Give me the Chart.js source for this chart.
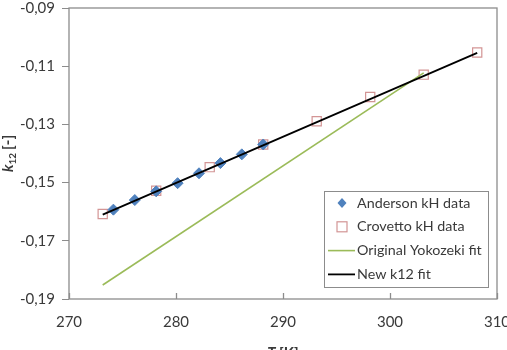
<!DOCTYPE html>
<html>
<head>
<meta charset="utf-8">
<script src="https://cdn.jsdelivr.net/npm/chart.js@4.4.0/dist/chart.umd.min.js"></script>
<style>
  html, body { margin: 0; padding: 0; background: #fff; }
  #wrap { width: 507px; height: 350px; }
</style>
</head>
<body>
<div id="wrap"><canvas id="k12Chart" width="507" height="350"></canvas></div>
<script>
// temperatures [K] and k12 values
var andersonT = [274.15, 276.15, 278.15, 280.15, 282.15, 284.15, 286.15, 288.15];
var andersonK = [-0.1593, -0.1560, -0.1530, -0.1502, -0.1468, -0.1433, -0.1403, -0.1369];
var crovettoT = [273.15, 278.15, 283.15, 288.15, 293.15, 298.15, 303.15, 308.15];
var crovettoK = [-0.1608, -0.1528, -0.1447, -0.1369, -0.1289, -0.1206, -0.1129, -0.1053];
// fit lines (straight, end points only)
var yokozekiT = [273.15, 303.15];
var yokozekiK = [-0.1852, -0.1123];
var newFitT = [273.15, 308.15];
var newFitK = [-0.1610, -0.1054];

var xTicks = [270, 280, 290, 300, 310];
var yTicks = [-0.19, -0.17, -0.15, -0.13, -0.11, -0.09];

var FONT = "Lato, 'Open Sans', sans-serif";
var TXT = "#3a3a3a";

function pts(xs, ys) {
    return xs.map(function (x, i) { return {x: x, y: ys[i]}; });
}

var datasets = [{
    label: "Anderson kH data",
    data: pts(andersonT, andersonK),
    pointStyle: "rectRot",
    pointRadius: 5.5,
    backgroundColor: "#4F81BD",
    borderColor: "#4F81BD",
    borderWidth: 1,
    showLine: false,
    order: 2
}, {
    label: "Crovetto kH data",
    data: pts(crovettoT, crovettoK),
    pointStyle: "rect",
    pointRadius: 6.5,
    backgroundColor: "rgba(255,255,255,0)",
    borderColor: "#D39595",
    borderWidth: 1.2,
    showLine: false,
    order: 3
}, {
    label: "Original Yokozeki fit",
    data: pts(yokozekiT, yokozekiK),
    showLine: true,
    pointRadius: 0,
    borderColor: "#9BBB59",
    borderWidth: 1.6,
    order: 1
}, {
    label: "New k12 fit",
    data: pts(newFitT, newFitK),
    showLine: true,
    pointRadius: 0,
    borderColor: "#000000",
    borderWidth: 1.8,
    order: 0
}];

// box round the plot, inward x ticks, axis titles and the legend
var decorations = {
    id: "decorations",
    afterDraw: function (chart) {
        var ctx = chart.ctx, a = chart.chartArea;
        var xs = chart.scales.x;
        ctx.save();
        ctx.strokeStyle = "#8c8c8c";
        ctx.lineWidth = 1.3;
        ctx.strokeRect(a.left, a.top, a.right - a.left, a.bottom - a.top);
        xTicks.forEach(function (v) {
            var px = Math.round(xs.getPixelForValue(v)) + 0.5;
            ctx.beginPath();
            ctx.moveTo(px, a.bottom);
            ctx.lineTo(px, a.bottom - 6);
            ctx.stroke();
        });

        // y title  k12 [-]
        ctx.fillStyle = TXT;
        ctx.translate(13, 148);
        ctx.rotate(-Math.PI / 2);
        ctx.textBaseline = "alphabetic";
        ctx.textAlign = "left";
        var x0 = -24;
        ctx.font = "italic bold 15px " + FONT;
        ctx.fillText("k", x0, 0);
        x0 += ctx.measureText("k").width;
        ctx.font = "bold 10px " + FONT;
        ctx.fillText("12", x0, 3);
        x0 += ctx.measureText("12").width + 3;
        ctx.font = "bold 15px " + FONT;
        ctx.fillText("[-]", x0, 0);
        ctx.setTransform(1, 0, 0, 1, 0, 0);

        // x title  T [K]
        ctx.textAlign = "left";
        ctx.font = "italic bold 15px " + FONT;
        var tw = ctx.measureText("T ").width;
        ctx.font = "bold 15px " + FONT;
        var kw = ctx.measureText("[K]").width;
        var sx = (a.left + a.right) / 2 - (tw + kw) / 2;
        ctx.font = "italic bold 15px " + FONT;
        ctx.fillText("T ", sx, 358);
        ctx.font = "bold 15px " + FONT;
        ctx.fillText("[K]", sx + tw, 358);

        // legend
        var lx = 324, ly = 191, lw = 164, lh = 96;
        ctx.fillStyle = "#fff";
        ctx.fillRect(lx, ly, lw, lh);
        ctx.strokeStyle = "#8c8c8c";
        ctx.lineWidth = 1;
        ctx.strokeRect(lx + 0.5, ly + 0.5, lw, lh);
        ctx.font = "14.3px " + FONT;
        ctx.textBaseline = "middle";
        chart.data.datasets.forEach(function (ds, i) {
            var cy = ly + 12 + i * 23.8;
            var mx = 342;
            ctx.strokeStyle = ds.borderColor;
            ctx.lineWidth = ds.borderWidth;
            ctx.beginPath();
            if (ds.showLine) {
                ctx.moveTo(328, cy);
                ctx.lineTo(355, cy);
                ctx.stroke();
            } else if (ds.pointStyle === "rect") {
                ctx.strokeRect(mx - 5, cy - 5, 10, 10);
            } else {
                ctx.fillStyle = ds.backgroundColor;
                ctx.moveTo(mx, cy - 5);
                ctx.lineTo(mx + 4.5, cy);
                ctx.lineTo(mx, cy + 5);
                ctx.lineTo(mx - 4.5, cy);
                ctx.closePath();
                ctx.fill();
            }
            ctx.fillStyle = TXT;
            ctx.fillText(ds.label, 357, cy);
        });
        ctx.restore();
    }
};

new Chart(document.getElementById("k12Chart"), {
    type: "scatter",
    data: {datasets: datasets},
    plugins: [decorations],
    options: {
        responsive: false,
        animation: false,
        layout: {padding: {top: 8, right: 10, left: 0, bottom: 0}},
        plugins: {legend: {display: false}, tooltip: {enabled: false}},
        scales: {
            x: {
                type: "linear",
                min: 270,
                max: 310,
                afterBuildTicks: function (s) { s.ticks = xTicks.map(function (v) { return {value: v}; }); },
                afterFit: function (s) { s.height = 51; s.paddingRight = 0; s.paddingLeft = 0; },
                grid: {display: false, drawTicks: false},
                border: {display: false},
                ticks: {
                    padding: 14,
                    color: TXT,
                    font: {family: FONT, size: 15}
                }
            },
            y: {
                type: "linear",
                min: -0.19,
                max: -0.09,
                afterBuildTicks: function (s) { s.ticks = yTicks.map(function (v) { return {value: v}; }); },
                afterFit: function (s) { s.width = 69; s.paddingTop = 0; s.paddingBottom = 0; },
                grid: {drawOnChartArea: false, tickLength: 7, color: "#8c8c8c"},
                border: {display: false},
                ticks: {
                    padding: 7,
                    color: TXT,
                    font: {family: FONT, size: 15},
                    callback: function (v) { return v.toFixed(2).replace(".", ","); }
                }
            }
        }
    }
});
</script>
</body>
</html>
